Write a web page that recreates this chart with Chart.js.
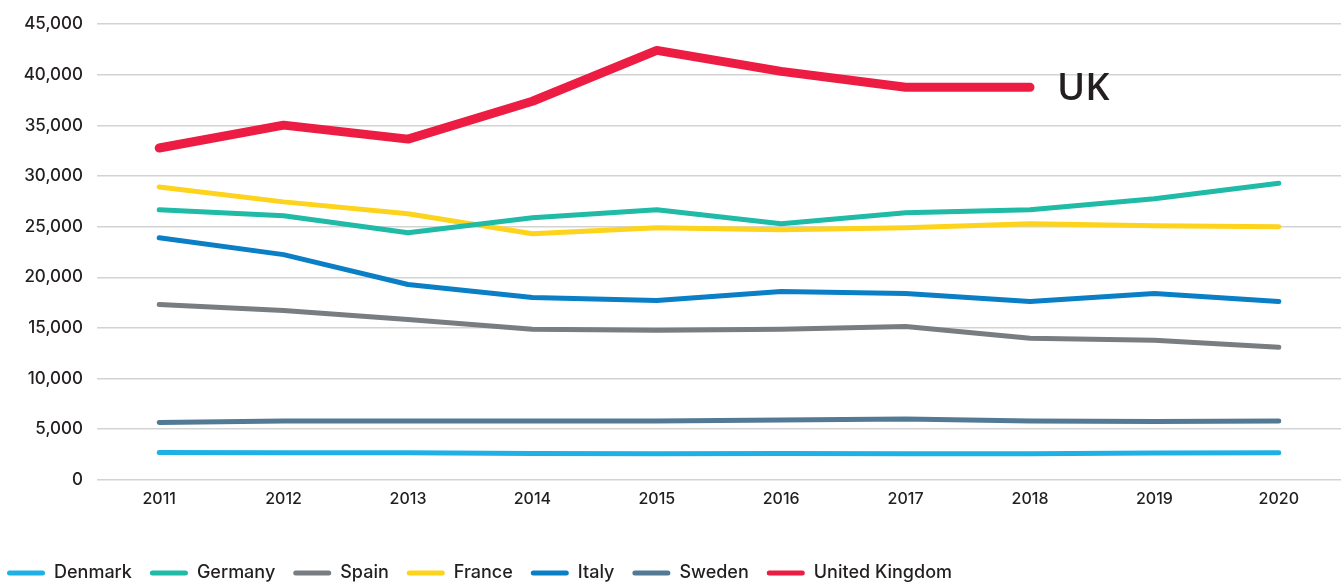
<!DOCTYPE html>
<html><head><meta charset="utf-8">
<script src="https://cdn.jsdelivr.net/npm/chart.js@4.4.1/dist/chart.umd.min.js"></script>
<style>html,body{margin:0;padding:0;background:#fff}#wrap{width:1341px;height:582px}</style>
</head><body><div id="wrap"><canvas id="c"></canvas></div>
<script>
const years = ['2011','2012','2013','2014','2015','2016','2017','2018','2019','2020'];
const denmark = [2690,2660,2660,2600,2580,2600,2580,2580,2640,2660];
const germany = [26670,26080,24400,25880,26670,25290,26370,26670,27750,29300];
const spain = [17320,16730,15840,14860,14760,14860,15150,13970,13780,13090];
const france = [28930,27450,26270,24300,24900,24700,24900,25290,25090,25000];
const italy = [23900,22240,19290,18010,17710,18600,18400,17610,18400,17610];
const sweden = [5660,5800,5800,5800,5800,5900,6000,5800,5760,5800];
const uk = [32770,35030,33650,37390,42410,40340,38770,38770,null,null];
const yTicks = [0,5000,10000,15000,20000,25000,30000,35000,40000,45000];

const FONT = "Inter, 'Liberation Sans', Arial, sans-serif";
function ds(label, data, color, w){
  return {label, data, borderColor: color, backgroundColor: color, borderWidth: w,
    pointRadius: 0, pointHoverRadius: 0, tension: 0, borderCapStyle: 'round', borderJoinStyle: 'round', fill: false};
}
const ukLabel = {
  id: 'ukLabel',
  afterDatasetsDraw(chart){
    const meta = chart.getDatasetMeta(6);
    const p = meta.data[7];
    const ctx = chart.ctx;
    ctx.save();
    ctx.font = "600 38px 'Open Sans', 'Noto Sans', sans-serif";
    ctx.fillStyle = '#231f20';
    ctx.textBaseline = 'middle';
    ctx.textAlign = 'left';
    ctx.fillText('UK', p.x + 27, p.y + 2);
    ctx.restore();
  }
};
const legendShift = {
  id: 'legendShift',
  afterLayout(chart){
    const l = chart.legend;
    l.top += 10; l.bottom += 10;
    l.left -= 11; l.right -= 11;
  }
};
new Chart(document.getElementById('c'), {
  type: 'line',
  data: { labels: years, datasets: [
    ds('Denmark', denmark, '#1fb1e6', 5),
    ds('Germany', germany, '#1fbba6', 5),
    ds('Spain', spain, '#787d81', 5),
    ds('France', france, '#fdd31c', 5),
    ds('Italy', italy, '#0a7fc6', 5),
    ds('Sweden', sweden, '#537a95', 5),
    ds('United Kingdom', uk, '#ec1c42', 9)
  ]},
  options: {
    responsive: true, maintainAspectRatio: false, animation: false,
    layout: { padding: { top: 13, right: 0, left: 0, bottom: 0 } },
    plugins: {
      tooltip: { enabled: false },
      legend: {
        position: 'bottom', align: 'start',
        labels: {
          font: { family: FONT, size: 18, weight: 500 }, color: '#231f20',
          boxWidth: 38, boxHeight: 5, padding: 18, useBorderRadius: true, borderRadius: 2.5,
          generateLabels(chart){
            return chart.data.datasets.map((d,i)=>({text: d.label, fillStyle: d.borderColor, strokeStyle: d.borderColor, lineWidth: 0, datasetIndex: i, fontColor: '#231f20', borderRadius: 2.5}));
          }
        }
      }
    },
    scales: {
      x: {
        offset: true,
        grid: { display: false, drawTicks: false },
        border: { display: false },
        ticks: { font: { family: FONT, size: 16, weight: 500 }, color: '#231f20', padding: 10 },
        afterFit(axis){ axis.height += 17; }
      },
      y: {
        min: 0, max: 45000,
        afterBuildTicks(axis){ axis.ticks = yTicks.map(v=>({value:v})); },
        grid: { color: '#d3d3d3', lineWidth: 1.5, drawTicks: false },
        border: { display: false },
        ticks: { font: { family: FONT, size: 17, weight: 500 }, color: '#231f20', padding: 14,
          callback: v => v.toLocaleString('en-US') },
        afterFit(axis){ axis.width = 97; }
      }
    }
  },
  plugins: [ukLabel, legendShift]
});
</script></body></html>
